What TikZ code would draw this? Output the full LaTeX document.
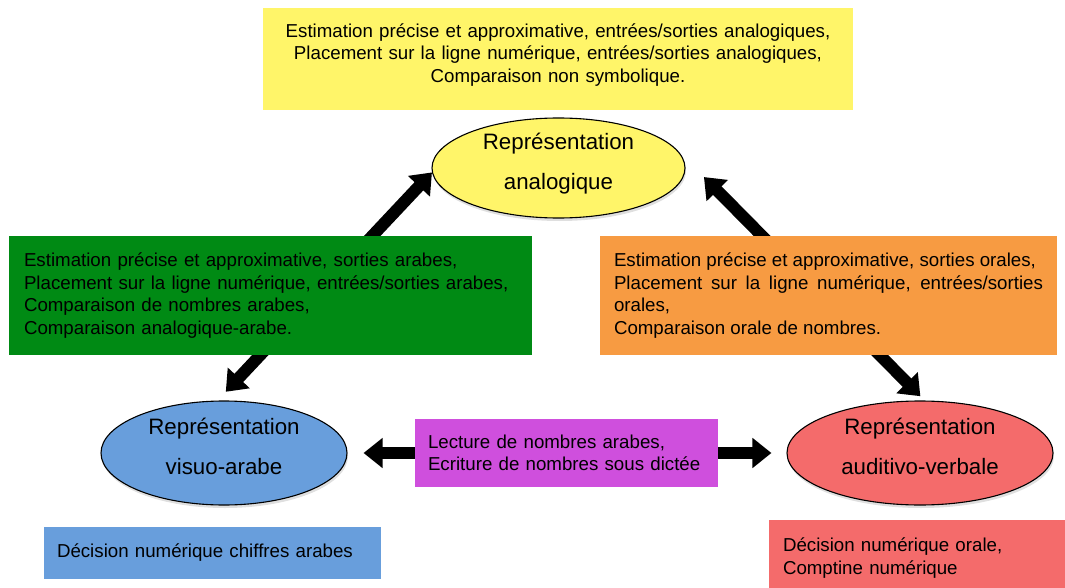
\documentclass[tikz,border=0pt]{standalone}
\usepackage{fontspec}
\setmainfont{Liberation Sans}
\usetikzlibrary{shapes.geometric,arrows.meta,shadows}
\definecolor{jaune}{RGB}{255,245,105}
\definecolor{vert}{RGB}{0,138,20}
\definecolor{orangebox}{RGB}{247,155,66}
\definecolor{bleu}{RGB}{104,158,220}
\definecolor{violet}{RGB}{207,79,221}
\definecolor{rouge}{RGB}{244,107,107}
\hyphenpenalty=10000
\tikzset{
  repr/.style={ellipse, draw, line width=1.1pt, inner sep=0pt, align=center,
    font=\fontsize{22.3}{40}\selectfont, text depth=13pt,
    drop shadow={opacity=0.25, shadow xshift=1pt, shadow yshift=-3pt}},
  tache/.style={rectangle, inner ysep=0pt, font=\fontsize{18.7}{22.5}\selectfont},
  lien/.style={line width=12pt, {Triangle[width=29pt,length=19pt]}-{Triangle[width=29pt,length=19pt]}}
}
\begin{document}
\begin{tikzpicture}[x=1pt,y=-1pt]
\useasboundingbox (0,0) rectangle (1065,588);

\node (analog) [repr, fill=jaune, minimum width=253pt, minimum height=100pt] at (558.5,168) {Représentation\\analogique};
\node (visuo) [repr, fill=bleu, minimum width=246pt, minimum height=104pt] at (224,453) {Représentation\\visuo-arabe};
\node (audit) [repr, fill=rouge, minimum width=266pt, minimum height=104pt] at (920,453) {Représentation\\auditivo-verbale};

\draw [lien, shorten <=12pt] (visuo.97) -- (analog.182);
\draw [lien, shorten <=39pt, shorten >=6pt] (analog.9) -- (audit.85);
\draw [lien, shorten <=16pt, shorten >=15pt] (visuo.east) -- (audit.west);

\node (tachesAna) [tache, fill=jaune, inner xsep=10pt, text width=570pt, minimum height=102pt, text depth=57pt, align=center] at (558,59) {
  Estimation précise et approximative, entrées/sorties analogiques,\\
  Placement sur la ligne numérique, entrées/sorties analogiques,\\
  Comparaison non symbolique.
};
\node (tachesVis) [tache, fill=vert, inner xsep=15pt, text width=493pt, minimum height=119pt, align=left] at (270.5,295.5) {
  Estimation précise et approximative, sorties arabes,\\
  Placement sur la ligne numérique, entrées/sorties arabes,\\
  Comparaison de nombres arabes,\\
  Comparaison analogique-arabe.
};
\node (tachesAud) [tache, fill=orangebox, inner xsep=14pt, text width=429pt, minimum height=119pt, align=justify] at (828.5,295.5) {
  Estimation précise et approximative, sorties orales,\\
  Placement sur la ligne numérique, entrées/sorties orales,\\
  Comparaison orale de nombres.
};
\node (transcodage) [tache, fill=violet, inner xsep=13pt, text width=277pt, minimum height=68pt, align=left] at (566.5,453) {
  Lecture de nombres arabes,\\
  Ecriture de nombres sous dictée
};
\node (decisionVis) [tache, fill=bleu, inner xsep=13pt, text width=311pt, minimum height=52pt, align=left] at (212.5,553) {
  Décision numérique chiffres arabes
};
\node (decisionAud) [tache, fill=rouge, inner xsep=14pt, text width=268pt, minimum height=76pt, align=left] at (917,558) {
  Décision numérique orale,\\
  Comptine numérique
};
\end{tikzpicture}
\end{document}
